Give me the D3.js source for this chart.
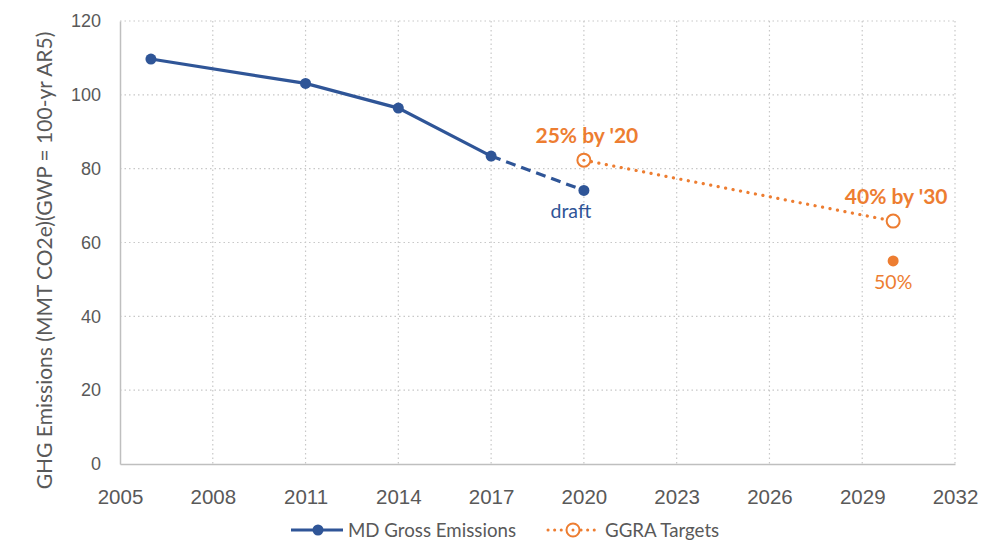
<!DOCTYPE html>
<html>
<head>
<meta charset="utf-8">
<script src="https://cdn.jsdelivr.net/npm/d3@7"></script>
<style>
  body { margin: 0; background: #fff; }
  svg { font-family: Lato, "Open Sans", sans-serif; }
  .tick text { fill: #595959; font-size: 18px; }
</style>
</head>
<body>
<svg id="chart" width="1000" height="553"></svg>
<script>
// emissions (MMT CO2e)
var emisYears = [2006, 2011, 2014, 2017, 2020];
var emisValues = [109.7, 103.1, 96.4, 83.4, 74.1];
// GGRA targets
var targetYears = [2020, 2030];
var targetValues = [82.3, 65.8];
var targetLabels = ["25% by '20", "40% by '30"];
var extraYear = 2030, extraValue = 55.0, extraLabel = "50%";

var xTicks = [2005, 2008, 2011, 2014, 2017, 2020, 2023, 2026, 2029, 2032];
var yTicks = [0, 20, 40, 60, 80, 100, 120];

var blue = "#2F5597", orange = "#ED7D31", grey = "#595959";

var svg = d3.select("#chart");
var margin = {left: 120, right: 45, top: 21, bottom: 89};
var w = 1000 - margin.left - margin.right,
    h = 553 - margin.top - margin.bottom;

var x = d3.scaleLinear().domain([2005, 2032]).range([0, w]);
var y = d3.scaleLinear().domain([0, 120]).range([h, 0]);

var g = svg.append("g").attr("transform", "translate(" + margin.left + "," + margin.top + ")");

// gridlines
g.append("g").selectAll("line").data(yTicks.slice(1)).enter().append("line")
    .attr("x1", 0).attr("x2", w)
    .attr("y1", d => y(d)).attr("y2", d => y(d))
    .attr("stroke", "#c8c8c8").attr("stroke-width", 1.2).attr("stroke-dasharray", "1.5,3");
g.append("g").selectAll("line").data(xTicks.slice(1)).enter().append("line")
    .attr("x1", d => x(d)).attr("x2", d => x(d))
    .attr("y1", 0).attr("y2", h)
    .attr("stroke", "#c8c8c8").attr("stroke-width", 1.2).attr("stroke-dasharray", "1.5,3");

// axes
var xAxis = g.append("g").attr("transform", "translate(0," + h + ")")
    .call(d3.axisBottom(x).tickValues(xTicks).tickFormat(d3.format("d")).tickSize(0).tickPadding(25));
xAxis.select(".domain").attr("stroke", "#bfbfbf").attr("stroke-width", 1.5);
xAxis.selectAll(".tick text").style("font-size", "20.5px");

var yAxis = g.append("g")
    .call(d3.axisLeft(y).tickValues(yTicks).tickSize(0).tickPadding(19));
yAxis.select(".domain").attr("stroke", "#bfbfbf").attr("stroke-width", 1.5);

// y title
svg.append("text")
    .attr("transform", "translate(52," + (margin.top + h / 2 + 18) + ") rotate(-90)")
    .attr("text-anchor", "middle")
    .attr("fill", grey).style("font-size", "21px")
    .text("GHG Emissions (MMT CO2e)(GWP = 100-yr AR5)");

// emissions line: solid up to 2017, dashed to 2020
var pts = emisYears.map((d, i) => [x(d), y(emisValues[i])]);
var line = d3.line();
g.append("path").attr("d", line(pts.slice(0, 4)))
    .attr("fill", "none").attr("stroke", blue).attr("stroke-width", 3.2);
g.append("path").attr("d", line(pts.slice(3)))
    .attr("fill", "none").attr("stroke", blue).attr("stroke-width", 3.2).attr("stroke-dasharray", "10,6");
g.selectAll(".emis").data(pts).enter().append("circle")
    .attr("cx", d => d[0]).attr("cy", d => d[1]).attr("r", 5.5).attr("fill", blue);

// targets
var tpts = targetYears.map((d, i) => [x(d), y(targetValues[i])]);
g.append("path").attr("d", line(tpts))
    .attr("fill", "none").attr("stroke", orange).attr("stroke-width", 3.2)
    .attr("stroke-dasharray", "0.1,7.5").attr("stroke-linecap", "round");
g.selectAll(".tgt").data(tpts).enter().append("circle")
    .attr("cx", d => d[0]).attr("cy", d => d[1]).attr("r", 6.5)
    .attr("fill", "#fff").attr("stroke", orange).attr("stroke-width", 2);
g.append("circle").attr("cx", tpts[0][0]).attr("cy", tpts[0][1]).attr("r", 1.5).attr("fill", orange);
g.append("circle").attr("cx", x(extraYear)).attr("cy", y(extraValue)).attr("r", 5.5).attr("fill", orange);

// labels
g.selectAll(".tlab").data(tpts).enter().append("text")
    .attr("x", d => d[0] + 3).attr("y", d => d[1] - 17)
    .attr("text-anchor", "middle").attr("fill", orange)
    .style("font-size", "21px").style("font-weight", "bold")
    .text((d, i) => targetLabels[i]);
g.append("text").attr("x", x(extraYear)).attr("y", y(extraValue) + 28)
    .attr("text-anchor", "middle").attr("fill", orange).style("font-size", "19.5px").text(extraLabel);
g.append("text").attr("x", pts[4][0] - 13).attr("y", pts[4][1] + 28)
    .attr("text-anchor", "middle").attr("fill", blue).style("font-size", "19.5px").text("draft");

// legend
var lg = svg.append("g").attr("transform", "translate(0,530)");
lg.append("line").attr("x1", 291).attr("x2", 343).attr("stroke", blue).attr("stroke-width", 3.2);
lg.append("circle").attr("cx", 318).attr("r", 5.5).attr("fill", blue);
lg.append("text").attr("x", 348).attr("y", 6.5).attr("fill", grey).style("font-size", "18.7px").text("MD Gross Emissions");
lg.append("line").attr("x1", 548).attr("x2", 598).attr("stroke", orange).attr("stroke-width", 3)
    .attr("stroke-dasharray", "0.1,6.5").attr("stroke-linecap", "round");
lg.append("circle").attr("cx", 573).attr("r", 6.5).attr("fill", "#fff").attr("stroke", orange).attr("stroke-width", 2);
lg.append("circle").attr("cx", 573).attr("r", 1.5).attr("fill", orange);
lg.append("text").attr("x", 605).attr("y", 6.5).attr("fill", grey).style("font-size", "18.7px").text("GGRA Targets");
</script>
</body>
</html>
